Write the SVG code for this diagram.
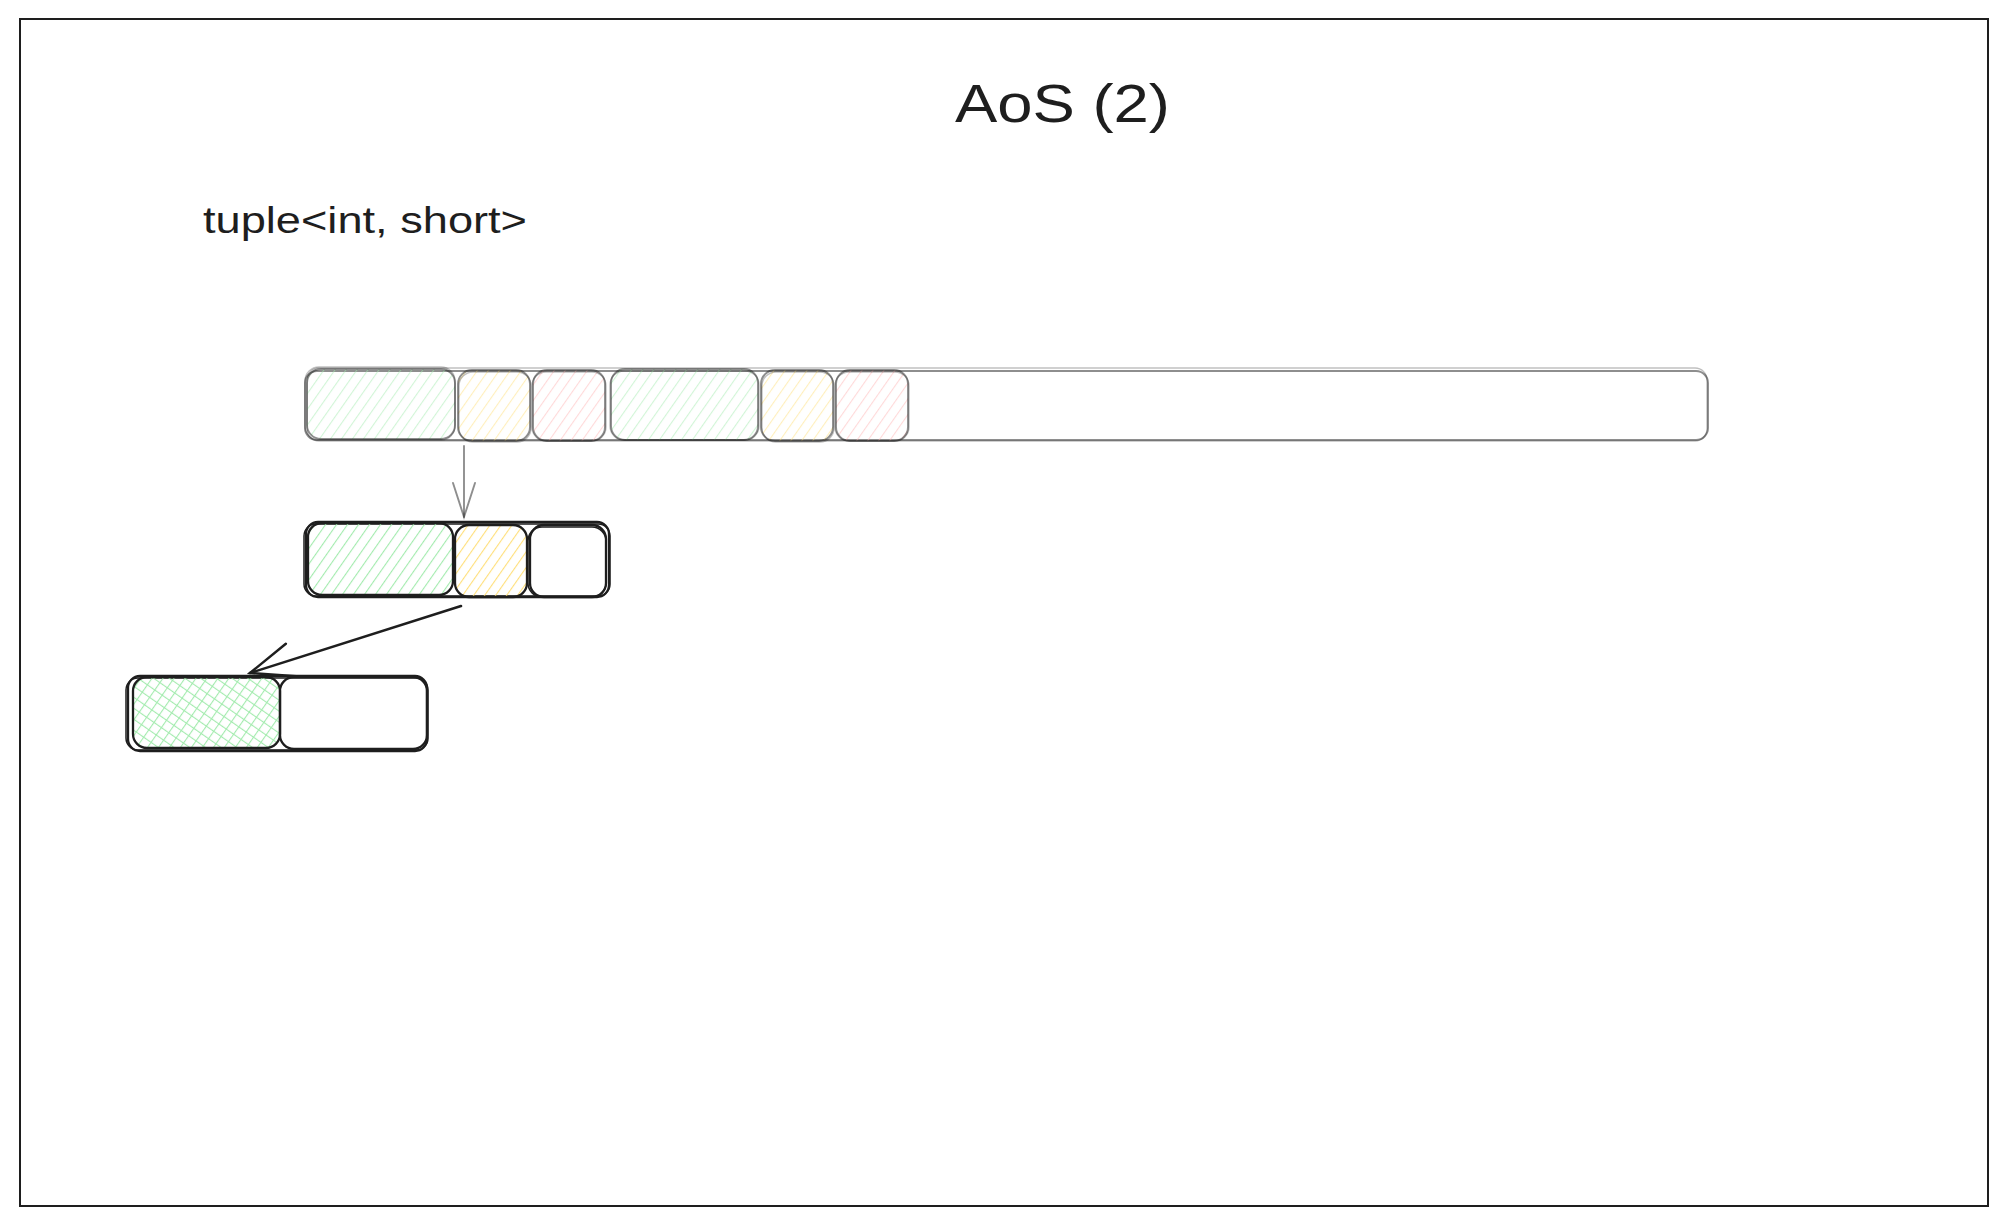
<svg xmlns="http://www.w3.org/2000/svg" width="2008" height="1226" viewBox="0 0 2008 1226">
<style>
  .txt { font-family: "Liberation Sans", "DejaVu Sans", sans-serif; fill: #1e1e1e; }
  .gray { fill: none; stroke: #1e1e1e; stroke-opacity: 0.5; stroke-width: 1.9; }
  .grayb { fill: none; stroke: #1e1e1e; stroke-opacity: 0.28; stroke-width: 1.4; }
  .blk { fill: none; stroke: #1e1e1e; stroke-width: 2.3; }
  .blkb { fill: none; stroke: #1e1e1e; stroke-width: 1.5; }
</style>
<defs>
  <pattern id="hG" patternUnits="userSpaceOnUse" width="9" height="9" patternTransform="rotate(35)">
    <line x1="0" y1="0" x2="0" y2="9" stroke="#a3ebae" stroke-width="2.2"/>
  </pattern>
  <pattern id="hG2" patternUnits="userSpaceOnUse" width="9" height="9" patternTransform="rotate(-55)">
    <line x1="0" y1="0" x2="0" y2="9" stroke="#a3ebae" stroke-width="2.2"/>
  </pattern>
  <pattern id="hY" patternUnits="userSpaceOnUse" width="9" height="9" patternTransform="rotate(35)">
    <line x1="0" y1="0" x2="0" y2="9" stroke="#ffdf7a" stroke-width="2.2"/>
  </pattern>
  <pattern id="hR" patternUnits="userSpaceOnUse" width="9" height="9" patternTransform="rotate(35)">
    <line x1="0" y1="0" x2="0" y2="9" stroke="#ffb3b3" stroke-width="2.2"/>
  </pattern>
  <marker id="arrGray" markerUnits="userSpaceOnUse" markerWidth="60" markerHeight="60" refX="0" refY="0" orient="auto" overflow="visible">
    <path d="M -34 -11 L 0 0 L -34 11" fill="none" stroke="#1e1e1e" stroke-opacity="0.5" stroke-width="1.9" stroke-linecap="round"/>
  </marker>
  <marker id="arrBlk" markerUnits="userSpaceOnUse" markerWidth="60" markerHeight="60" refX="0" refY="0" orient="auto" overflow="visible">
    <path d="M -43 -17 L 0 0 L -43 17" fill="none" stroke="#1e1e1e" stroke-width="2.5" stroke-linecap="round"/>
  </marker>
</defs>

<rect width="2008" height="1226" fill="#ffffff"/>

<g id="frame">
  <rect x="20" y="19" width="1968" height="1187" fill="none" stroke="#1e1e1e" stroke-width="2"/>
</g>

<g id="title">
  <text class="txt" x="955" y="122" font-size="54" textLength="215" lengthAdjust="spacingAndGlyphs">AoS (2)</text>
</g>

<g id="label-tuple">
  <text class="txt" x="203" y="233" font-size="37" textLength="324" lengthAdjust="spacingAndGlyphs">tuple&lt;int, short&gt;</text>
</g>

<g id="array-bar">
  <rect class="gray" x="305" y="371" width="1403" height="69" rx="12"/>
  <rect class="grayb" x="307" y="368" width="1400" height="73" rx="12"/>
</g>

<g id="cell-int-0">
  <rect x="307" y="369" width="148" height="70" rx="14" fill="url(#hG)" opacity="0.5"/>
  <rect class="gray" x="307" y="369" width="148" height="70" rx="14"/>
  <rect class="grayb" x="305" y="367" width="150" height="73" rx="14"/>
</g>
<g id="cell-short-0">
  <rect x="458" y="370" width="72" height="71" rx="14" fill="url(#hY)" opacity="0.5"/>
  <rect class="gray" x="458" y="370" width="72" height="71" rx="14"/>
  <rect class="grayb" x="459" y="372" width="72" height="70" rx="14"/>
</g>
<g id="cell-pad-0">
  <rect x="533" y="370" width="72" height="71" rx="14" fill="url(#hR)" opacity="0.5"/>
  <rect class="gray" x="533" y="370" width="72" height="71" rx="14"/>
  <rect class="grayb" x="532" y="372" width="74" height="69" rx="14"/>
</g>
<g id="cell-int-1">
  <rect x="611" y="369" width="147" height="71" rx="14" fill="url(#hG)" opacity="0.5"/>
  <rect class="gray" x="611" y="369" width="147" height="71" rx="14"/>
  <rect class="grayb" x="610" y="371" width="149" height="69" rx="14"/>
</g>
<g id="cell-short-1">
  <rect x="761" y="370" width="72" height="71" rx="14" fill="url(#hY)" opacity="0.5"/>
  <rect class="gray" x="761" y="370" width="72" height="71" rx="14"/>
  <rect class="grayb" x="762" y="372" width="72" height="70" rx="14"/>
</g>
<g id="cell-pad-1">
  <rect x="836" y="370" width="72" height="71" rx="14" fill="url(#hR)" opacity="0.5"/>
  <rect class="gray" x="836" y="370" width="72" height="71" rx="14"/>
  <rect class="grayb" x="835" y="372" width="74" height="69" rx="14"/>
</g>

<g id="tuple-box">
  <rect class="blk" x="306" y="522" width="303" height="75" rx="12"/>
  <rect class="blkb" x="304" y="524" width="306" height="72" rx="12"/>
</g>
<g id="tuple-int">
  <rect x="308" y="523" width="145" height="72" rx="14" fill="url(#hG)"/>
  <rect class="blk" x="308" y="523" width="145" height="72" rx="14"/>
</g>
<g id="tuple-short">
  <rect x="455" y="525" width="72" height="72" rx="14" fill="url(#hY)"/>
  <rect class="blk" x="455" y="525" width="72" height="72" rx="14"/>
</g>
<g id="tuple-pad">
  <rect class="blk" x="530" y="525" width="76" height="72" rx="14"/>
  <rect class="blkb" x="528" y="527" width="78" height="70" rx="14"/>
</g>

<g id="short-box">
  <rect class="blk" x="128" y="676" width="299" height="75" rx="12"/>
  <rect class="blkb" x="126" y="678" width="302" height="72" rx="12"/>
</g>
<g id="short-byte0">
  <rect x="133" y="677" width="147" height="71" rx="14" fill="url(#hG)"/>
  <rect x="133" y="677" width="147" height="71" rx="14" fill="url(#hG2)"/>
  <rect class="blk" x="133" y="677" width="147" height="71" rx="14"/>
</g>
<g id="short-byte1">
  <rect class="blk" x="280" y="677" width="147" height="72" rx="14"/>
</g>

<g id="connectors">
  <line x1="464" y1="446" x2="464" y2="517" stroke="#1e1e1e" stroke-opacity="0.5" stroke-width="1.9" stroke-linecap="round" marker-end="url(#arrGray)"/>
  <line x1="461" y1="606" x2="250" y2="673" stroke="#1e1e1e" stroke-width="2.5" stroke-linecap="round" marker-end="url(#arrBlk)"/>
</g>
</svg>
